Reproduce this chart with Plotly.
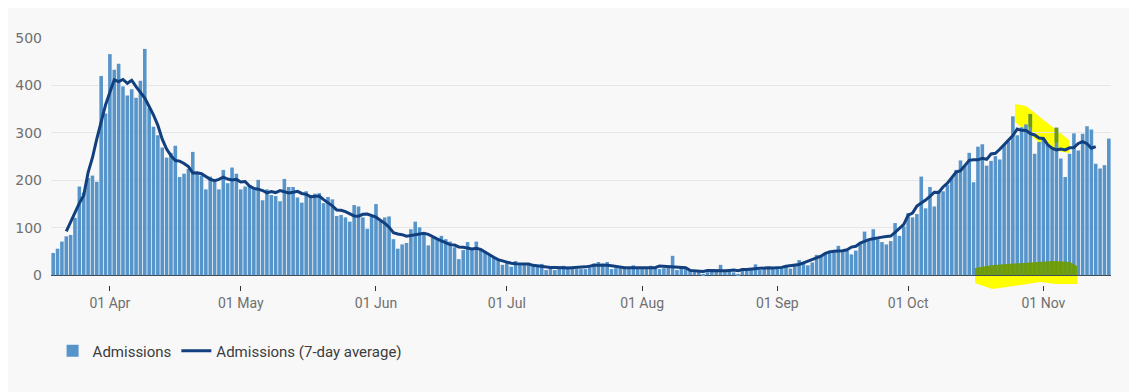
import pandas as pd
import plotly.graph_objects as go

# ---- data ----
start_date = "2020-03-19"
admissions = [
    47, 56, 71, 82, 85, 121, 187, 174, 205, 210, 197, 420, 341,            # Mar 19-31
    466, 433, 446, 398, 379, 392, 374, 410, 477, 352, 313, 295, 269, 248,  # Apr 1-14
    258, 273, 207, 214, 224, 260, 214, 210, 181, 208, 200, 181, 222, 194,  # Apr 15-28
    227, 214,                                                              # Apr 29-30
    181, 187, 190, 184, 201, 158, 181, 169, 167, 156, 203, 186, 186, 164,  # May 1-14
    153, 177, 169, 172, 173, 152, 165, 160, 125, 127, 122, 113, 148, 145,  # May 15-28
    122, 98, 124,                                                          # May 29-31
    150, 117, 122, 124, 76, 56, 65, 68, 97, 113, 101, 89, 63, 79,          # Jun 1-14
    76, 83, 76, 71, 59, 34, 53, 70, 55, 71, 55, 50, 43, 38, 32, 22,        # Jun 15-30
    27, 18, 30, 25, 23, 25, 20, 18, 24, 11, 16, 11, 16, 20, 18, 16,        # Jul 1-16
    13, 13, 13, 16, 25, 28, 25, 28, 13, 15, 15, 16, 15, 21, 15,            # Jul 17-31
    15, 15, 20, 15, 13, 15, 18, 41, 11, 15, 13, 10, 10, 10, 3, 6,          # Aug 1-16
    8, 10, 22, 7, 10, 6, 3, 13, 15, 13, 23, 11, 15, 14, 14,                # Aug 17-31
    16, 18, 18, 14, 22, 32, 25, 21, 27, 43, 41, 46, 52, 52, 62,            # Sep 1-15
    49, 51, 44, 52, 66, 92, 73, 97, 76, 70, 65, 72, 110, 83, 103,          # Sep 16-30
    131, 122, 129, 208, 141, 186, 145, 178, 177, 190, 205, 222, 242, 230,  # Oct 1-14
    258, 196, 271, 276, 231, 241, 251, 244, 275, 282, 335, 295, 312, 318,  # Oct 15-28
    340, 256, 281,                                                         # Oct 29-31
    288, 275, 267, 311, 246, 207, 256, 299, 263, 298, 314, 307, 235, 225,  # Nov 1-14
    232, 288,                                                              # Nov 15-16
]

avg_start_date = "2020-03-22"
admissions_7day = [
    92.7, 110.9, 132.1, 152.0, 168.4, 216.3, 247.7, 287.6, 324.6, 359.0,
    385.9, 411.9, 407.9, 412.6, 404.6, 410.9, 397.4, 385.3, 373.3, 355.7,
    337.7, 316.0, 286.9, 266.1, 252.0, 241.9, 240.6, 235.7, 228.9, 215.7,
    215.9, 213.9, 207.7, 202.3, 199.4, 201.9, 206.6, 202.7, 200.9, 202.1,
    196.7, 197.7, 187.9, 183.1, 181.4, 178.6, 173.7, 176.4, 174.3, 178.3,
    175.9, 173.6, 175.0, 176.9, 172.4, 170.6, 165.7, 165.9, 166.9, 159.4,
    153.4, 146.3, 137.7, 137.1, 134.3, 128.9, 125.0, 124.6, 128.6, 129.1,
    125.4, 122.4, 115.9, 109.9, 101.4, 89.7, 86.9, 85.6, 82.3, 84.1,
    85.1, 87.1, 88.3, 86.3, 81.0, 76.7, 72.4, 68.3, 64.6, 63.7,
    59.7, 59.0, 56.7, 55.4, 56.7, 54.6, 49.1, 44.4, 38.1, 32.9,
    30.0, 27.4, 25.3, 24.3, 24.0, 22.7, 23.6, 20.9, 19.6, 17.9,
    16.6, 16.6, 16.6, 15.4, 15.7, 15.3, 15.6, 15.6, 16.3, 17.7,
    19.0, 21.1, 21.1, 21.4, 21.3, 20.0, 18.1, 17.6, 15.7, 16.0,
    16.0, 16.7, 16.6, 16.3, 15.4, 15.9, 19.6, 19.0, 18.3, 18.0,
    17.6, 16.9, 15.7, 10.3, 9.6, 8.6, 8.1, 9.9, 9.4, 9.4,
    9.9, 9.4, 10.1, 10.9, 9.6, 11.9, 12.0, 13.3, 14.9, 15.0,
    15.1, 15.9, 15.1, 15.6, 16.6, 19.1, 20.7, 21.4, 22.7, 26.3,
    30.1, 33.6, 36.4, 40.3, 46.1, 49.3, 50.4, 50.9, 51.7, 53.7,
    59.4, 61.0, 67.9, 71.4, 75.1, 77.0, 77.9, 80.4, 81.9, 82.7,
    90.6, 98.0, 107.1, 126.6, 131.0, 145.7, 151.7, 158.4, 166.3, 175.0,
    174.6, 186.1, 194.1, 206.3, 217.7, 220.4, 232.0, 242.1, 243.4, 243.3,
    246.3, 244.3, 255.6, 257.1, 265.6, 274.7, 284.9, 294.4, 308.1, 305.4,
    305.3, 298.6, 295.7, 289.3, 288.3, 274.9, 267.9, 264.3, 265.9, 264.1,
    268.6, 269.0, 277.7, 281.7, 277.3, 267.7, 271.3,
]

y_ticks = [0, 100, 200, 300, 400, 500]

bar_dates = pd.date_range(start_date, periods=len(admissions), freq="D")
avg_dates = pd.date_range(avg_start_date, periods=len(admissions_7day), freq="D")

# ---- style ----
BG = "#f8f8f8"
BAR = "#5694ca"
LINE = "#12407f"
TICK = "#6f6f6f"
OLIVE = "rgba(110,155,0,0.9)"

W, H = 1137, 392
OFF = 8                      # page body margin of the html page
PLOT_L, PLOT_R = 51, 1111    # plot area in window pixels
PLOT_T, PLOT_B = 38, 285
ML = PLOT_L - OFF
MT = PLOT_T - OFF
MR = W - (PLOT_R - OFF)
MB = H - (PLOT_B - OFF)
PW, PH = PLOT_R - PLOT_L, PLOT_B - PLOT_T


def px(x, y):
    """window pixel position -> paper coordinates (for the highlighter marks)"""
    return (x - PLOT_L) / PW, (PLOT_B - y) / PH


def path(points):
    pts = [px(x, y) for x, y in points]
    s = "M {:.4f},{:.4f}".format(*pts[0])
    for p in pts[1:]:
        s += " L {:.4f},{:.4f}".format(*p)
    return s + " Z"


fig = go.Figure()
fig.add_trace(go.Bar(
    x=bar_dates, y=admissions, name="Admissions",
    marker=dict(color=BAR, line=dict(width=0)),
))
fig.add_trace(go.Scatter(
    x=avg_dates, y=admissions_7day, name="Admissions (7-day average)",
    mode="lines", line=dict(color=LINE, width=3),
))

# hand-drawn highlighter marks seen on the reference
yellow = "#ffff00"
shapes = [
    dict(type="path", xref="paper", yref="paper", layer="below", line=dict(width=0),
         fillcolor=yellow,
         path=path([(1015, 104), (1026, 106), (1069, 140), (1069, 153),
                    (1047, 149), (1015, 122)])),
    dict(type="path", xref="paper", yref="paper", layer="below", line=dict(width=0),
         fillcolor=yellow,
         path=path([(975, 268), (993, 265), (1023, 263), (1053, 261), (1070, 262),
                    (1077, 266), (1077, 284), (1056, 284), (1040, 282), (1007, 287),
                    (992, 289), (975, 283)])),
    dict(type="path", xref="paper", yref="paper", layer="above", line=dict(width=0),
         fillcolor=OLIVE,
         path=path([(975, 268), (993, 265), (1023, 263), (1053, 261), (1070, 262),
                    (1077, 266), (1077, 275), (975, 275)])),
    # bar tops seen through the upper highlighter stroke
    dict(type="rect", xref="x", yref="y", layer="above", line=dict(width=0),
         fillcolor=OLIVE, x0="2020-10-28 14:00", x1="2020-10-29 10:00", y0=312, y1=340),
    dict(type="rect", xref="x", yref="y", layer="above", line=dict(width=0),
         fillcolor=OLIVE, x0="2020-11-03 14:00", x1="2020-11-04 10:00", y0=280, y1=311),
]

fig.update_layout(
    width=W, height=H,
    margin=dict(l=ML, r=MR, t=MT, b=MB, pad=0, autoexpand=False),
    paper_bgcolor=BG, plot_bgcolor="rgba(0,0,0,0)",
    bargap=0.18,
    showlegend=True,
    legend=dict(orientation="h", x=0.0015, xanchor="left", y=-0.267, yanchor="middle",
                font=dict(family="Roboto", size=15, color="#3c3c3c"),
                bgcolor="rgba(0,0,0,0)", itemclick=False),
    font=dict(family="Roboto", color=TICK),
    shapes=shapes,
    xaxis=dict(
        type="date",
        range=["2020-03-18 12:00", "2020-11-16 12:00"],
        tickformat="%d %b", dtick="M1", tick0="2020-04-01",
        ticks="outside", ticklen=5, tickcolor="#333333", tickwidth=1,
        tickfont=dict(family="Roboto", size=14, color=TICK),
        showgrid=False, showline=False, zeroline=False, automargin=False,
    ),
    yaxis=dict(
        range=[-20.5, 500],
        tickvals=y_ticks,
        tickfont=dict(family="DejaVu Sans", size=14, color=TICK),
        showgrid=True, gridcolor="#e6e6e6", gridwidth=1,
        zeroline=True, zerolinecolor="#3a3a3a", zerolinewidth=1.2,
        showline=False, ticks="", ticklabelstandoff=8, automargin=False,
    ),
)

fig.write_html("out.html")
